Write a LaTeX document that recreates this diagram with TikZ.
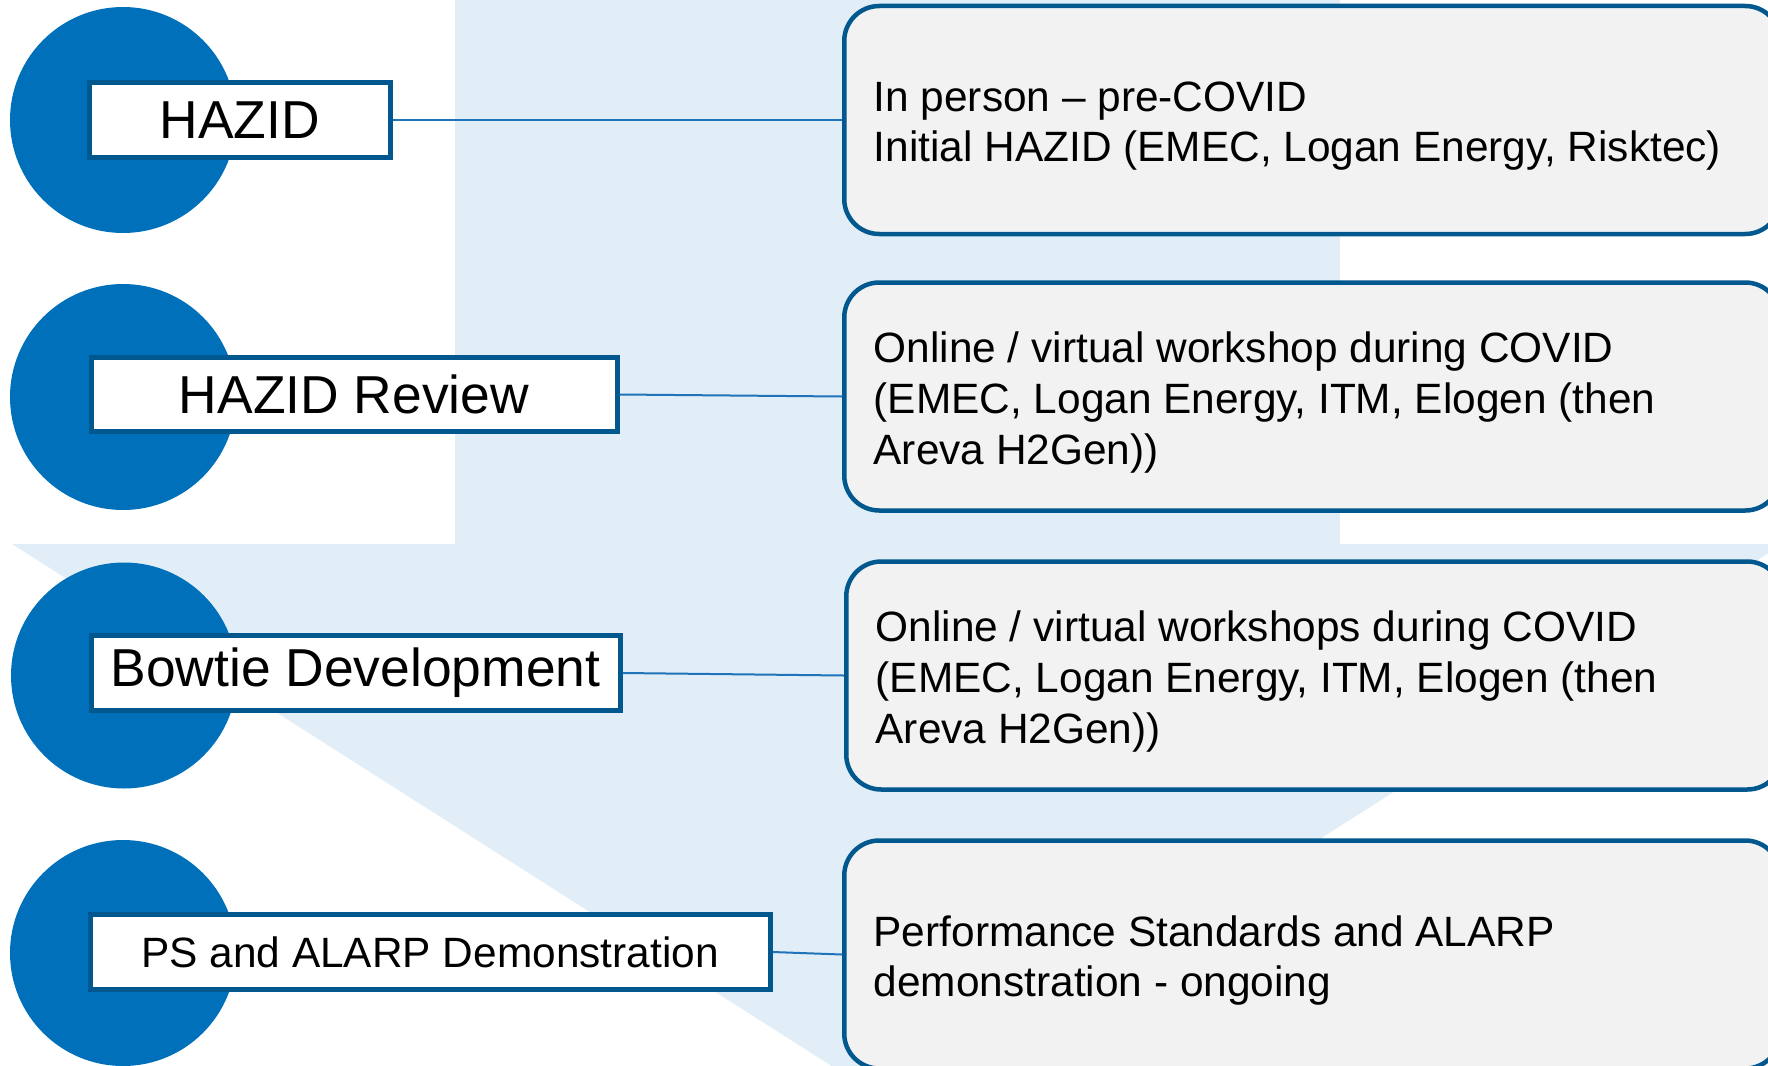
\documentclass[tikz,border=0pt]{standalone}
\usepackage{fontspec}
\setmainfont{Liberation Sans}
\definecolor{circblue}{RGB}{0,112,186}
\definecolor{darkblue}{RGB}{0,88,142}
\definecolor{lineblue}{RGB}{30,115,185}
\definecolor{bgblue}{RGB}{225,238,247}
\definecolor{boxgray}{RGB}{242,242,242}
\begin{document}
\begin{tikzpicture}[x=1pt,y=-1pt,
  circ/.style={circle,fill=circblue,minimum size=226pt,inner sep=0pt},
  lbl/.style={rectangle,draw=darkblue,line width=5pt,fill=white,inner sep=0pt,
    anchor=west,minimum height=74.5pt,font=\fontsize{53.4}{60}\selectfont},
  lblsmall/.style={lbl,font=\fontsize{42.4}{50}\selectfont},
  rbox/.style={rectangle,draw=darkblue,line width=4.5pt,fill=boxgray,
    rounded corners=35pt,anchor=west,minimum height=228pt,minimum width=936pt,
    inner sep=0pt},
  rtext/.style={anchor=west,align=left,inner sep=0pt,xshift=31.5pt,yshift=-6pt,
    font=\fontsize{42.4}{50.8}\selectfont},
  conn/.style={draw=lineblue,line width=2pt}]
\useasboundingbox (0,0) rectangle (1768,1065);
\clip (0,0) rectangle (1768,1065);
% background arrow
\fill[bgblue] (455,0) -- (1340,0) -- (1340,544) -- (1783,544) -- (897.5,1108)
  -- (12,544) -- (455,544) -- cycle;
% circles
\node[circ] (c1) at (123,120) {};
\node[circ] (c2) at (123,397) {};
\node[circ] (c3) at (124,675.5) {};
\node[circ] (c4) at (123,953) {};
% label boxes
\node[lbl,minimum width=301.5pt] (b1) at (86.5,120) {HAZID};
\node[lbl,minimum width=526pt] (b2) at (88.5,394.5) {HAZID Review};
\node[lbl,minimum width=529pt] (b3) at (88.5,673) {Bowtie Development};
\node[lblsmall,minimum width=680pt] (b4) at (87.5,952) {PS and ALARP Demonstration};
% right boxes
\node[rbox] (r1) at (842,120) {};
\node[rbox] (r2) at (842,396.5) {};
\node[rbox] (r3) at (844,675.5) {};
\node[rbox] (r4) at (842,954.5) {};
\node[rtext] (t1) at (r1.west) {In person – pre-COVID\\Initial HAZID (EMEC, Logan Energy, Risktec)};
\node[rtext] (t2) at (r2.west) {Online / virtual workshop during COVID\\(EMEC, Logan Energy, ITM, Elogen (then\\Areva H2Gen))};
\node[rtext] (t3) at (r3.west) {Online / virtual workshops during COVID\\(EMEC, Logan Energy, ITM, Elogen (then\\Areva H2Gen))};
\node[rtext] (t4) at (r4.west) {Performance Standards and ALARP\\demonstration - ongoing};
% connectors
\draw[conn] (b1.east) -- (r1.west);
\draw[conn] (b2.east) -- (r2.west);
\draw[conn] (b3.east) -- (r3.west);
\draw[conn] (b4.east) -- (r4.west);
\end{tikzpicture}
\end{document}
